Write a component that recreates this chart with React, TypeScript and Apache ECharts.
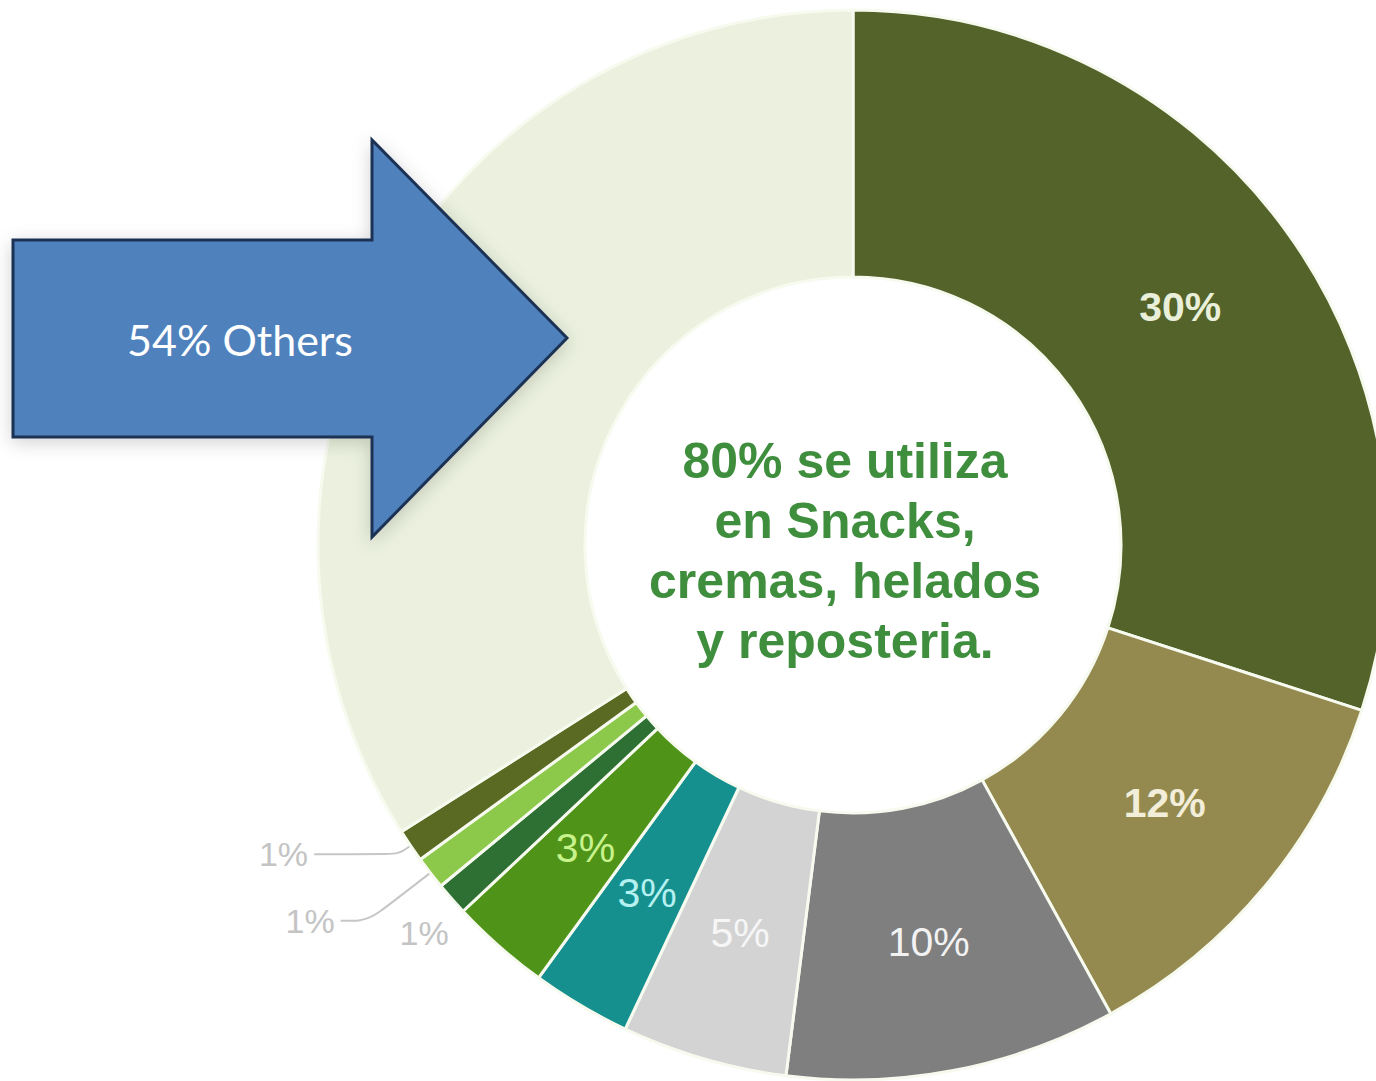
import React, { useEffect, useRef } from "react";
import * as echarts from "echarts";

const categories = [
  "Snacks",
  "Cremas",
  "Helados",
  "Reposteria",
  "Categoria A",
  "Categoria B",
  "Categoria C",
  "Categoria D",
  "Categoria E",
  "Others",
];
const values = [30, 12, 10, 5, 3, 3, 1, 1, 1, 34];
const sliceColors = [
  "#536329",
  "#948a4f",
  "#7f7f7f",
  "#d3d3d3",
  "#15908f",
  "#4f9419",
  "#2e7034",
  "#8cc94a",
  "#5a6a23",
  "#ebf1de",
];
const labelColors = [
  "#e9efd9",
  "#f2eed9",
  "#f2f2f2",
  "#f6f6f6",
  "#b5f1f1",
  "#c8f28c",
  "#c4c4c4",
  "#c4c4c4",
  "#c4c4c4",
  "#c4c4c4",
];
const boldLabels = [true, true, false, false, false, false, false, false, false, false];
const centerLines = ["80% se utiliza", "en Snacks,", "cremas, helados", "y reposteria."];
const arrowText = "54% Others";

export default function App() {
  const ref = useRef<HTMLDivElement>(null);

  useEffect(() => {
    if (!ref.current) return;
    const chart = echarts.init(ref.current, undefined, { renderer: "svg" });

    const data = values.map((v, i) => {
      const item: any = {
        name: categories[i],
        value: v,
        itemStyle: { color: sliceColors[i] },
        label: {
          show: i < 6,
          position: "inside",
          color: labelColors[i],
          fontSize: 41,
          fontWeight: boldLabels[i] ? "bold" : "normal",
          fontFamily: "Liberation Sans, Arial, sans-serif",
          formatter: "{d}%",
        },
        labelLine: { show: false },
      };
      if (i >= 6 && i <= 8) {
        item.label = {
          show: true,
          position: "outside",
          color: labelColors[i],
          fontSize: 34,
          fontFamily: "Liberation Sans, Arial, sans-serif",
          formatter: "{d}%",
          distanceToLabelLine: 6,
        };
      }
      if (i === 6) {
        item.labelLine = { show: false, length: 40, length2: 0 };
      }
      if (i === 7) {
        item.labelLine = {
          show: true,
          length: 78,
          length2: 28,
          smooth: 0.3,
          lineStyle: { color: "#c6c6c6", width: 2 },
        };
      }
      if (i === 8) {
        item.labelLine = {
          show: true,
          length: 15,
          length2: 84,
          smooth: 0.3,
          lineStyle: { color: "#c6c6c6", width: 2 },
        };
      }
      if (i === 9) {
        item.label = { show: false };
        item.labelLine = { show: false };
      }
      return item;
    });

    chart.setOption({
      animation: false,
      backgroundColor: "#ffffff",
      series: [
        {
          type: "pie",
          center: [853, 545],
          radius: [268, 535],
          startAngle: 90,
          clockwise: true,
          avoidLabelOverlap: false,
          itemStyle: { borderColor: "#f7faef", borderWidth: 3 },
          emphasis: { disabled: true },
          data,
          labelLayout: (params: any) => {
            if (params.dataIndex === 6) return { dx: 33, dy: 8 };
            return {};
          },
        },
      ],
      graphic: [
        {
          type: "text",
          x: 845,
          y: 551,
          z: 10,
          style: {
            text: centerLines.join("\n"),
            fill: "#3f8e3d",
            font: "bold 50px 'Liberation Sans', Arial, sans-serif",
            lineHeight: 60,
            align: "center",
            verticalAlign: "middle",
          },
        },
        {
          type: "polygon",
          z: 20,
          shape: {
            points: [
              [13, 240],
              [372, 240],
              [372, 140],
              [567, 338],
              [372, 537],
              [372, 437],
              [13, 437],
            ],
          },
          style: {
            fill: "#4f81bd",
            stroke: "#1c3354",
            lineWidth: 3,
            shadowBlur: 18,
            shadowColor: "rgba(0,0,0,0.18)",
            shadowOffsetX: 0,
            shadowOffsetY: 4,
          },
        },
        {
          type: "text",
          x: 240,
          y: 339,
          z: 21,
          style: {
            text: arrowText,
            fill: "#ffffff",
            font: "43px Lato, 'Open Sans', sans-serif",
            align: "center",
            verticalAlign: "middle",
          },
        },
      ],
    });

    return () => chart.dispose();
  }, []);

  return (
    <div
      ref={ref}
      style={{ position: "fixed", left: 0, top: 0, width: 1376, height: 1081 }}
    />
  );
}
